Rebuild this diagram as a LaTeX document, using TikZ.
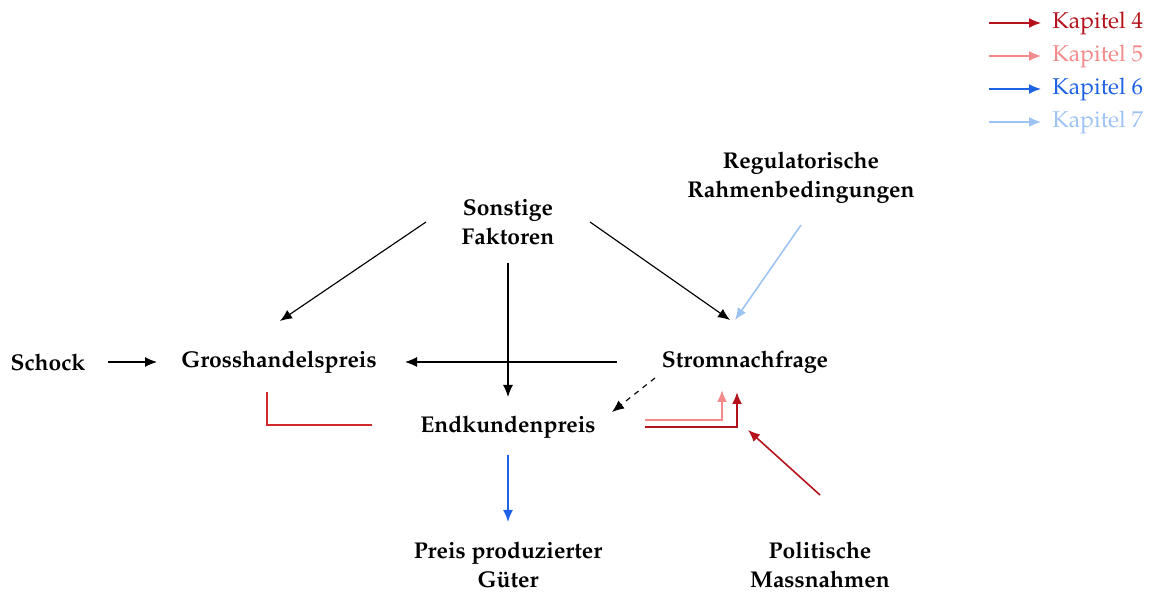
\documentclass[tikz,border=0pt]{standalone}
\usepackage[T1]{fontenc}
\usepackage{mathpazo}
\usepackage{tikz}
\usetikzlibrary{arrows.meta, positioning}
\definecolor{kapvier}{HTML}{B5121B}
\definecolor{kapfuenf}{HTML}{F48A8A}
\definecolor{kapsechs}{HTML}{1F62E6}
\definecolor{kapsieben}{HTML}{9DC3F4}
\definecolor{kaprot}{HTML}{D22A2A}
\tikzset{
  >={Latex[length=2.4mm,width=2mm]},
  factor/.style={font=\fontsize{13}{16.5}\selectfont\bfseries, align=center, inner sep=1pt},
  legend/.style={font=\fontsize{13}{14}\selectfont, anchor=west, inner sep=0pt},
  link/.style={->, line width=0.65pt},
}

\begin{document}
\begin{tikzpicture}
        \useasboundingbox (0,0) rectangle (23.04,11.84);

        % factors
        \node[factor] (sonst) at (10.16,7.40) {Sonstige\\Faktoren};
        \node[factor] (reg) at (16.02,8.28) {Regulatorische\\Rahmenbedingungen};
        \node[factor] (schock) at (0.96,4.60) {Schock};
        \node[factor] (gross) at (5.58,4.60) {Grosshandelspreis};
        \node[factor] (strom) at (14.90,4.60) {Stromnachfrage};
        \node[factor] (end) at (10.16,3.30) {Endkundenpreis};
        \node[factor] (preis) at (10.16,0.54) {Preis produzierter\\G\"uter};
        \node[factor] (polit) at (16.40,0.54) {Politische\\Massnahmen};

        % legend
        \node[legend, text=kapvier] (k4) at (21.04,11.38) {Kapitel 4};
        \node[legend, text=kapfuenf] (k5) at (21.04,10.72) {Kapitel 5};
        \node[legend, text=kapsechs] (k6) at (21.04,10.06) {Kapitel 6};
        \node[legend, text=kapsieben] (k7) at (21.04,9.40) {Kapitel 7};
        \foreach \k/\c in {k4/kapvier, k5/kapfuenf, k6/kapsechs, k7/kapsieben}
          \draw[link, \c, line width=0.9pt] ([xshift=-12.6mm]\k.west) -- ([xshift=-2.2mm]\k.west);

        % links
        \draw[link] ([shift={(-1.64,0)}]sonst.center) -- ([shift={(0.02,0.82)}]gross.center);
        \draw[link] ([shift={(1.64,0)}]sonst.center) -- ([shift={(-0.30,0.84)}]strom.center);
        \draw[link] ([shift={(0,-0.82)}]sonst.center) -- ([shift={(0,0.60)}]end.center);
        \draw[link, kapsieben, line width=0.9pt] ([shift={(0,-0.94)}]reg.center) -- ([shift={(-0.20,0.84)}]strom.center);
        \draw[link] ([shift={(1.20,0)}]schock.center) -- ([shift={(-2.44,0)}]gross.center);
        \draw[link] ([shift={(-2.56,0)}]strom.center) -- ([shift={(2.52,0)}]gross.center);
        \draw[link, dashed] ([shift={(-1.80,-0.32)}]strom.center) -- ([shift={(2.08,0.30)}]end.center);
        \draw[link, kapsechs, line width=0.9pt] ([shift={(0,-0.56)}]end.center) -- ([shift={(0,0.86)}]preis.center);
        \draw[link, kapvier, line width=0.9pt] ([shift={(0,1.40)}]polit.center) -- ([shift={(0.06,-1.36)}]strom.center);

        % chapter paths
        \draw[kaprot, line width=1.2pt] ([shift={(-2.72,0.04)}]end.center) -| ([shift={(-0.24,-0.60)}]gross.center);
        \draw[link, kapfuenf, line width=1.2pt] ([shift={(2.74,0.14)}]end.center) -| ([shift={(-0.46,-0.56)}]strom.center);
        \draw[link, kapvier, line width=1.2pt] ([shift={(2.74,0)}]end.center) -| ([shift={(-0.16,-0.60)}]strom.center);

\end{tikzpicture}
\end{document}
